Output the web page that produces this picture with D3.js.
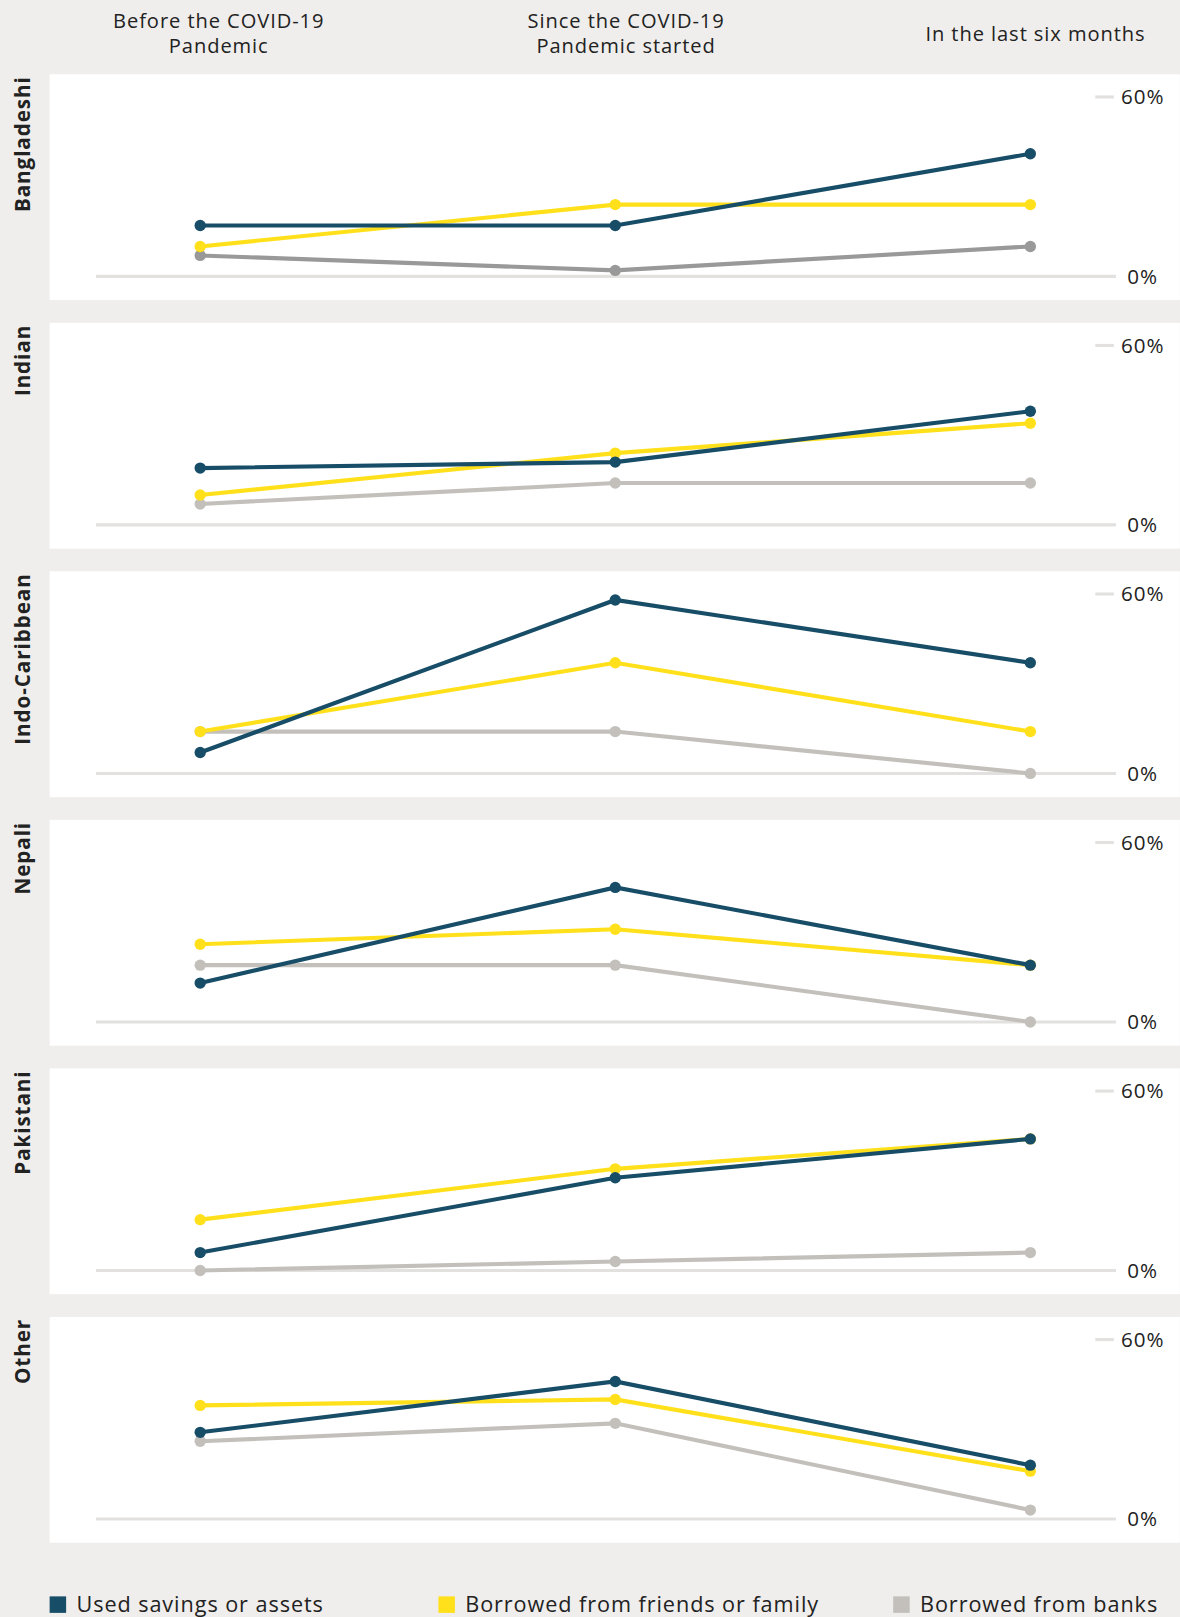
<!DOCTYPE html><html><head><meta charset="utf-8"><script src="https://cdn.jsdelivr.net/npm/d3@7"></script>
<style>body{margin:0;background:#efeeec}svg{display:block;font-family:"Open Sans",Lato,sans-serif}text{letter-spacing:0.9px}</style></head><body>
<script>
const periods=["Before the COVID-19|Pandemic","Since the COVID-19|Pandemic started","In the last six months"];
const groups=["Bangladeshi","Indian","Indo-Caribbean","Nepali","Pakistani","Other"];
const seriesNames=["Used savings or assets","Borrowed from friends or family","Borrowed from banks"];
const savings=[[17,17,41],[19,21,38],[7,58,37],[13,45,19],[6,31,44],[29,46,18]];
const friends=[[10,24,24],[10,24,34],[14,37,14],[26,31,19],[17,34,44],[38,40,16]];
const banks=[[7,2,10],[7,14,14],[14,14,0],[19,19,0],[0,3,6],[26,32,3]];
const colors=["#184d68","#ffe01b","#c3c0bc"];
const yTicks=[0,60];

const svg=d3.select("body").append("svg").attr("width",1180).attr("height",1617).attr("viewBox","0 0 1144 1568");
svg.append("rect").attr("width",1144).attr("height",1568).attr("fill","#efeeec");
const x=d3.scalePoint().domain(d3.range(3)).range([194,999]);
periods.forEach((p,i)=>{const cx=[212,607,1004][i];
 const ls=p.split("|"); ls.forEach((l,j)=>svg.append("text").attr("x",cx).attr("y",ls.length==1?40:27+j*24).attr("text-anchor","middle").attr("font-size",19.5).attr("fill","#222").text(l));});
const data=[savings,friends,banks];
groups.forEach((g,gi)=>{
 const top=72+gi*241;
 const gg=svg.append("g");
 gg.append("rect").attr("x",48).attr("y",top).attr("width",1096).attr("height",219).attr("fill","#fff");
 const y=d3.scaleLinear().domain([0,60]).range([top+196,top+22]);
 gg.append("line").attr("x1",93).attr("x2",1082).attr("y1",y(0)).attr("y2",y(0)).attr("stroke","#e2e1df").attr("stroke-width",3);
 gg.append("line").attr("x1",1062).attr("x2",1080).attr("y1",y(60)).attr("y2",y(60)).attr("stroke","#e2e1df").attr("stroke-width",3);
 yTicks.forEach(v=>gg.append("text").attr("x",v?1087:1093).attr("y",y(v)+7).attr("font-size",20).attr("fill","#222").text(v+"%"));
 gg.append("text").attr("transform",`translate(29,${top+2}) rotate(-90)`).attr("text-anchor","end").attr("font-size",20).attr("font-weight","bold").attr("fill","#222").text(g);
 [2,1,0].forEach(si=>{
  const vals=data[si][gi];
  const c=(si==2&&gi==0)?"#999":colors[si];
  gg.append("path").attr("d",d3.line().x((d,i)=>x(i)).y(d=>y(d))(vals)).attr("fill","none").attr("stroke",c).attr("stroke-width",4);
  gg.selectAll(null).data(vals).join("circle").attr("cx",(d,i)=>x(i)).attr("cy",d=>y(d)).attr("r",5.5).attr("fill",c);
 });
});
const lx=[48,425,866];
seriesNames.forEach((n,i)=>{svg.append("rect").attr("x",lx[i]).attr("y",1548).attr("width",16).attr("height",16).attr("fill",colors[i]);
 svg.append("text").attr("x",lx[i]+26).attr("y",1563).attr("font-size",21).attr("fill","#222").text(n);});
</script></body></html>
